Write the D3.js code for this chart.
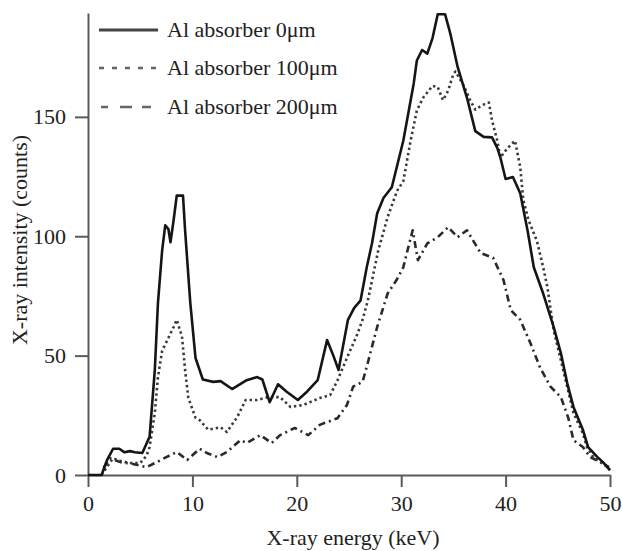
<!DOCTYPE html>
<html lang="en">
<head>
  <meta charset='utf-8'>
  <title>X-ray spectra with Al absorbers</title>
  <style>
    html, body { margin: 0; padding: 0; background: #ffffff; }
    svg { display: block; background-color: #ffffff; }
    text { font-family: "Liberation Serif", "Times New Roman", serif; fill: #222; }
  </style>
</head>
<body>

  <div id="chart"></div>

</body>

<script src="https://cdn.jsdelivr.net/npm/d3@7/dist/d3.min.js"></script>

<script>

  ////////////////////////////////////////////////// DATA

  // Al absorber 0um (solid)
  var energy0 = [0, 1.3, 1.8, 2.4, 3.0, 3.5, 4.0, 4.5, 5.2, 5.9, 6.4, 6.7, 7.1, 7.4, 7.7, 7.9, 8.2, 8.5, 9.1, 9.3,
                 9.8, 10.3, 11.0, 12.0, 12.7, 13.8, 15.2, 16.2, 16.7, 17.4, 18.2, 19.0, 20.1, 21.0, 22.0, 22.9, 23.5,
                 24.0, 24.9, 25.5, 26.1, 26.7, 27.2, 27.7, 28.3, 29.1, 30.2, 31.2, 31.5, 32.0, 32.5, 33.0, 33.5, 33.8,
                 34.2, 34.7, 35.4, 36.3, 37.1, 37.9, 38.7, 39.2, 39.5, 40.0, 40.7, 41.4, 42.1, 42.7, 43.6, 44.6, 45.3,
                 45.9, 46.5, 47.4, 47.9, 48.8, 49.3, 50.0];
  var counts0 = [0, 0, 6, 11, 11, 9.5, 10, 9.5, 9.2, 16, 44, 72, 94, 104.6, 103, 97.5, 106.7, 117, 117, 102.5,
                 72, 49, 40, 39, 39.3, 36, 39.7, 41, 40, 30.5, 38, 35, 31.4, 35, 39.7, 56.5, 50,
                 44, 65, 70, 73, 87, 97, 109.6, 116, 120.5, 140, 164, 173.6, 178, 176.5, 183, 193, 193,
                 193, 185, 171, 158, 144, 141.6, 141.4, 137, 133, 124, 124.8, 118, 102.5, 87, 76, 62, 51,
                 38.5, 28.5, 19, 11.7, 7.5, 5.5, 2];

  // Al absorber 100um (dotted)
  var energy100 = [1.3, 1.8, 2.4, 3.0, 4.0, 5.0, 5.6, 5.9, 6.4, 6.7, 7.1, 7.6, 8.2, 8.5, 9.0, 9.3, 9.6, 9.8, 10.3,
                   10.7, 11.5, 12.7, 13.3, 14.3, 15.1, 16.2, 17.2, 18.4, 19.4, 20.6, 22.2, 23.2, 23.9, 24.8, 25.8,
                   26.3, 26.8, 27.8, 28.7, 29.6, 30.2, 30.9, 31.5, 32.1, 33.0, 33.5, 34.0, 34.5, 35.0, 35.2, 36.0,
                   36.6, 37.1, 37.8, 38.4, 38.7, 39.2, 39.5, 40.2, 40.9, 41.4, 41.7, 42.2, 43.0, 43.6, 44.0, 44.6,
                   45.3, 45.9, 46.5, 47.4, 47.8, 48.4, 49.7, 50.0];
  var counts100 = [0, 3.3, 7, 6, 5, 5, 8, 11.7, 26, 41, 52, 56.5, 62, 65, 58, 44, 32.6, 30, 24,
                   23, 19, 20, 18, 24.3, 31.4, 31.4, 32.6, 32.6, 28.5, 29.3, 32.2, 33.5, 39.7, 49, 59,
                   65, 73, 94, 108, 119, 123, 140, 152.7, 158, 163, 162.5, 157, 161, 168, 169, 163,
                   157, 153, 155, 156, 148.5, 140, 133, 137, 140, 129, 115, 106.7, 98, 87, 78.7, 60.7,
                   48, 37, 26, 17.5, 11.7, 7.5, 3.5, 2];

  // Al absorber 200um (dash-dot)
  var energy200 = [1.5, 2.1, 3.1, 4.3, 5.6, 6.6, 7.5, 8.5, 9.5, 10.7, 11.5, 12.4, 13.3, 14.6, 15.2, 16.5, 17.6,
                   18.4, 19.8, 21.1, 22.2, 23.9, 24.8, 25.4, 26.3, 26.8, 27.7, 28.7, 29.6, 30.2, 30.6, 31.1, 31.6,
                   32.5, 33.5, 34.5, 35.4, 36.3, 37.6, 38.8, 39.8, 40.5, 41.4, 42.4, 43.3, 44.3, 45.3, 46.0, 46.5,
                   47.4, 48.1, 49.1, 49.9];
  var counts200 = [3, 7, 5.4, 4.6, 3.3, 5.4, 7.5, 9.6, 6.3, 11, 9, 7.5, 9.6, 14.6, 13.4, 16.7, 13.4,
                   16.7, 19.7, 16.7, 21, 23.8, 29.3, 37, 39, 47, 62, 76, 82, 87, 94, 102.5, 90,
                   97, 99.6, 103.8, 99.6, 102.5, 93, 91, 81.6, 69, 65, 55, 45, 37, 32.6, 24, 14.6,
                   11.7, 7.5, 5.4, 3.3];

  var seriesNames = ["Al absorber 0\u03bcm", "Al absorber 100\u03bcm", "Al absorber 200\u03bcm"];
  var xTicks = [0, 10, 20, 30, 40, 50];
  var yTicks = [0, 50, 100, 150];

  ////////////////////////////////////////////////// INIT VARS

  var width = 623;
  var height = 551;

  var plotLeft = 88, plotRight = 610, plotTop = 13, plotBottom = 475;

  var lineStyles = [
    { stroke: "#151515", dash: null,      width: 2.6 },
    { stroke: "#3a3a3a", dash: "2.4,3",   width: 2.6 },
    { stroke: "#2a2a2a", dash: "7,4,2,4", width: 2.6 }
  ];
  // the legend samples are drawn a bit looser than the curves
  var legendDash = [null, "5,8", "0,2,7,12,12,10,9,30"];

  ////////////////////////////////////////////////// SETUP

  var svg = d3.select("#chart").append("svg")
              .attr("width", width)
              .attr("height", height);

  var x = d3.scaleLinear().domain([0, 50]).range([plotLeft, plotRight]);
  var y = d3.scaleLinear().domain([0, 193.5]).range([plotBottom, plotTop]);

  function zipSeries(es, cs) {
    return es.map(function(e, i) { return { e: e, c: cs[i] }; });
  }

  var series = [
    zipSeries(energy0, counts0),
    zipSeries(energy100, counts100),
    zipSeries(energy200, counts200)
  ];

  ////////////////////////////////////////////////// AXES

  var xAxis = svg.append("g")
                 .attr("transform", "translate(0," + plotBottom + ")")
                 .call(d3.axisBottom(x).tickValues(xTicks).tickSize(12).tickSizeOuter(0).tickPadding(8));

  var yAxis = svg.append("g")
                 .attr("transform", "translate(" + plotLeft + ",0)")
                 .call(d3.axisLeft(y).tickValues(yTicks).tickSize(13).tickSizeOuter(0).tickPadding(9));

  [xAxis, yAxis].forEach(function(ax) {
    ax.select(".domain").attr("stroke", "#5a5a5a").attr("stroke-width", 2);
    ax.selectAll(".tick line").attr("stroke", "#5a5a5a").attr("stroke-width", 2);
    ax.selectAll(".tick text")
      .style("font-family", "'Liberation Serif', 'Times New Roman', serif")
      .style("font-size", "22px")
      .attr("fill", "#222");
  });

  // axis titles
  svg.append("text")
     .attr("x", 353)
     .attr("y", 545)
     .attr("text-anchor", "middle")
     .style("font-size", "22px")
     .text("X-ray energy (keV)");

  svg.append("text")
     .attr("transform", "translate(27,240) rotate(-90)")
     .attr("text-anchor", "middle")
     .style("font-size", "22px")
     .text("X-ray intensity (counts)");

  ////////////////////////////////////////////////// CURVES

  var line = d3.line()
               .x(function(d) { return x(d.e); })
               .y(function(d) { return y(d.c); });

  // draw 200 first, solid on top
  [2, 1, 0].forEach(function(i) {
    svg.append("path")
       .datum(series[i])
       .attr("fill", "none")
       .attr("stroke", lineStyles[i].stroke)
       .attr("stroke-width", lineStyles[i].width)
       .attr("stroke-linejoin", "round")
       .attr("stroke-dasharray", lineStyles[i].dash)
       .attr("d", line);
  });

  ////////////////////////////////////////////////// LEGEND

  var legend = svg.append("g");
  var legendRows = [30, 68, 107];

  seriesNames.forEach(function(name, i) {
    legend.append("line")
          .attr("x1", 99).attr("x2", 158)
          .attr("y1", legendRows[i]).attr("y2", legendRows[i])
          .attr("stroke", i === 0 ? "#444" : "#666")
          .attr("stroke-width", i === 0 ? 3 : 2.6)
          .attr("stroke-dasharray", legendDash[i]);
    legend.append("text")
          .attr("x", 167)
          .attr("y", legendRows[i] + 7)
          .style("font-size", "22px")
          .text(name);
  });

</script>
</html>
